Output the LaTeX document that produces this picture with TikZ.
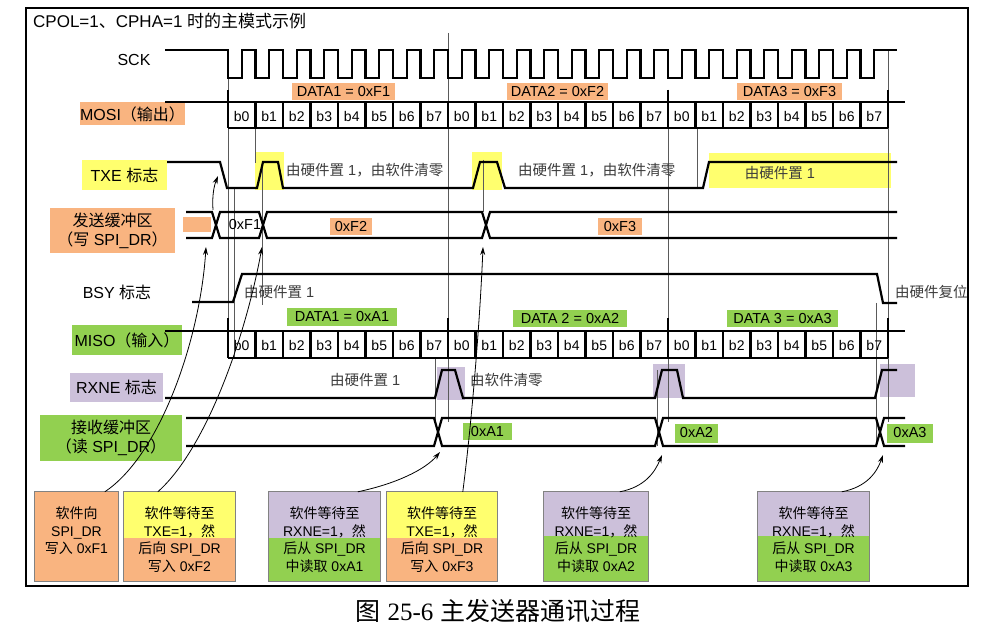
\documentclass[tikz,border=0pt]{standalone}
\usepackage{fontspec}
\setmainfont{Liberation Sans}
\newfontfamily\cjk{Noto Sans CJK SC}
\newfontfamily\capserif{Liberation Serif}
\usetikzlibrary{arrows.meta}
\definecolor{orng}{RGB}{249,180,128}
\definecolor{yel}{RGB}{255,255,110}
\definecolor{grn}{RGB}{146,208,80}
\definecolor{purp}{RGB}{204,192,218}
\definecolor{guide}{RGB}{90,90,90}
\definecolor{anno}{RGB}{60,60,60}
\definecolor{boxgray}{RGB}{130,130,130}
\newcommand\zh[1]{{\cjk #1}}
\begin{document}
\begin{tikzpicture}[x=1pt,y=-1pt,
 sig/.style={line width=2.2pt,line join=miter},
 guideline/.style={line width=0.7pt,draw=guide},
 arr/.style={-{Stealth[length=8pt,width=5pt]},line width=0.8pt},
 lab/.style={inner sep=0pt,font=\fontsize{16}{19}\selectfont},
 ann/.style={inner sep=0pt,text=anno,font=\fontsize{14.5}{17}\selectfont},
 bit/.style={inner sep=0pt,font=\fontsize{14}{16}\selectfont},
 datatag/.style={inner sep=0pt,font=\fontsize{14.5}{17}\selectfont},
 btext/.style={inner sep=0pt,align=center,font=\fontsize{14}{17.5}\selectfont},
 bline/.style={draw=boxgray,line width=0.9pt},
]
\useasboundingbox (0,0) rectangle (989,631);
\fill[white] (0,0) rectangle (989,631);
\draw[line width=1.5pt] (26,8) rectangle (968,586);
\node[anchor=west,inner sep=0pt,font=\fontsize{17}{20}\selectfont] (title) at (33,21) {CPOL=1\zh{、}CPHA=1 \zh{时的主模式示例}};

% ---- highlight boxes ----
\fill[yel] (255,152) rectangle (284,190);
\fill[yel] (472,152) rectangle (502,190);
\fill[yel] (709,153) rectangle (891,188);
\fill[purp] (437,367) rectangle (465,400);
\fill[purp] (653,364) rectangle (685,398);
\fill[purp] (880,364) rectangle (915,397);

% ---- row labels ----
\node[lab] (sck) at (134,60) {SCK};
\node[lab,fill=orng,minimum width=105pt,minimum height=23pt] (mosi) at (132.5,114) {MOSI\zh{（输出）}};
\node[lab,fill=yel,minimum width=85pt,minimum height=30pt] (txe) at (124.5,175) {TXE \zh{标志}};
\node[lab,fill=orng,minimum width=125pt,minimum height=45pt,align=center] (txbuf) at (112.5,230.5) {\zh{发送缓冲区}\\\zh{（写} SPI\_DR\zh{）}};
\node[fill=orng,minimum width=28pt,minimum height=15pt,inner sep=0pt] (txstub) at (197,224.5) {};
\node[lab] (bsy) at (117,292) {BSY \zh{标志}};
\node[lab,fill=grn,minimum width=110pt,minimum height=30pt] (miso) at (127,340) {MISO\zh{（输入）}};
\node[lab,fill=purp,minimum width=93pt,minimum height=29pt] (rxne) at (116.5,387.5) {RXNE \zh{标志}};
\node[lab,fill=grn,minimum width=142pt,minimum height=46pt,align=center] (rxbuf) at (111,438) {\zh{接收缓冲区}\\\zh{（读} SPI\_DR\zh{）}};

% ---- guide lines ----
\draw[guideline] (448,33) -- (448,422);
\draw[guideline] (668,90) -- (668,422);
\draw[guideline] (888,50) -- (888,422);
\draw[guideline] (228,78) -- (228,331);
\draw[guideline] (234,188) -- (234,358);
\draw[guideline] (255,128) -- (255,163);
\draw[guideline] (262,163) -- (262,305);
\draw[guideline] (483,160) -- (483,212);
\draw[guideline] (697,128) -- (697,188);
\draw[guideline] (435,358) -- (435,422);
\draw[guideline] (657,370) -- (657,446);
\draw[guideline] (876,303) -- (876,446);

% ---- SCK ----
\draw[sig] (165,50) foreach \k in {0,...,23} { -- ({228+27.5*\k},50) -- ({228+27.5*\k},78) -- ({241.75+27.5*\k},78) -- ({241.75+27.5*\k},50) } -- (897,50);

% ---- MOSI ----
\draw[sig] (165,102) -- (905,102);
\draw[sig] (228,128) -- (888,128);
\foreach \k in {0,...,24} \draw[sig] ({228+27.5*\k},102) -- ({228+27.5*\k},128);
\foreach \xx in {228,668,888} \draw[sig] (\xx,90) -- (\xx,102);
\foreach \k in {0,...,23} {
  \pgfmathtruncatemacro\bb{mod(\k,8)}
  \node[bit] (mo\k) at ({241.75+27.5*\k},116) {b\bb};
}
\node[datatag,fill=orng,minimum width=103pt,minimum height=17pt] (d1) at (343.5,91.5) {DATA1 = 0xF1};
\node[datatag,fill=orng,minimum width=101pt,minimum height=17pt] (d2) at (557.5,91.5) {DATA2 = 0xF2};
\node[datatag,fill=orng,minimum width=105pt,minimum height=17pt] (d3) at (789.5,91.5) {DATA3 = 0xF3};

% ---- TXE ----
\draw[sig] (167,162) -- (220,162) -- (227,188) -- (257,188) -- (263,162) -- (278,162) -- (283,188) -- (473,188) -- (480,162) -- (497,162) -- (505,188) -- (703,188) -- (709,162) -- (897,162);
\node[ann,anchor=west] (txa1) at (286,170) {\zh{由硬件置} 1\zh{，由软件清零}};
\node[ann,anchor=west] (txa2) at (518,170) {\zh{由硬件置} 1\zh{，由软件清零}};
\node[ann] (txa3) at (780,173) {\zh{由硬件置} 1};

% ---- send buffer ----
\draw[sig] (186,212) -- (212,212) -- (220,238) -- (259,238) -- (267,212) -- (482,212) -- (490,238) -- (897,238);
\draw[sig] (186,238) -- (212,238) -- (220,212) -- (259,212) -- (267,238) -- (482,238) -- (490,212) -- (897,212);
\node[datatag] (f1) at (245,225) {0xF1};
\node[datatag,fill=orng,minimum width=42pt,minimum height=17pt] (f2) at (351,226.5) {0xF2};
\node[datatag,fill=orng,minimum width=44pt,minimum height=17pt] (f3) at (620,226.5) {0xF3};

% ---- BSY ----
\draw[sig] (192,302) -- (233,302) -- (242,274) -- (877,274) -- (883,303) -- (897,303);
\node[ann,anchor=west] (bsa1) at (244,292) {\zh{由硬件置} 1};
\node[ann,anchor=west] (bsa2) at (895,292) {\zh{由硬件复位}};

% ---- MISO ----
\node[datatag,fill=grn,minimum width=110pt,minimum height=18pt] (a1) at (342,317) {DATA1 = 0xA1};
\node[datatag,fill=grn,minimum width=114pt,minimum height=17pt] (a2) at (570,319) {DATA 2 = 0xA2};
\node[datatag,fill=grn,minimum width=111pt,minimum height=17pt] (a3) at (782.5,319) {DATA 3 = 0xA3};
\draw[sig] (165,331) -- (905,331);
\draw[sig] (228,358) -- (888,358);
\foreach \k in {0,...,24} \draw[sig] ({228+27.5*\k},331) -- ({228+27.5*\k},358);
\foreach \xx in {228,448,668,888} \draw[sig] (\xx,318) -- (\xx,331);
\foreach \k in {0,...,23} {
  \pgfmathtruncatemacro\bb{mod(\k,8)}
  \node[bit] (mi\k) at ({241.75+27.5*\k},345) {b\bb};
}

% ---- RXNE ----
\draw[sig] (165,398) -- (435,398) -- (442,370) -- (455,370) -- (463,398) -- (655,398) -- (662,370) -- (677,370) -- (683,398) -- (875,398) -- (882,370) -- (897,370);
\node[ann,anchor=west] (rxa1) at (330,380) {\zh{由硬件置} 1};
\node[ann,anchor=west] (rxa2) at (470,380) {\zh{由软件清零}};

% ---- receive buffer ----
\draw[sig] (186,418) -- (434,418) -- (442,446) -- (655,446) -- (663,418) -- (876,418) -- (884,446) -- (905,446);
\draw[sig] (186,446) -- (434,446) -- (442,418) -- (655,418) -- (663,446) -- (876,446) -- (884,418) -- (905,418);
\node[datatag,fill=grn,minimum width=49pt,minimum height=17pt] (r1) at (487.5,431.5) {0xA1};
\node[datatag,fill=grn,minimum width=43pt,minimum height=19pt] (r2) at (696.5,433) {0xA2};
\node[datatag,fill=grn,minimum width=46pt,minimum height=19pt] (r3) at (910,433) {0xA3};

% ---- bottom boxes ----
\node[fill=orng,minimum width=83pt,minimum height=89pt,inner sep=0pt] (bx1) at (76.5,536.5) {};
\draw[bline] (bx1.north west) rectangle (bx1.south east);
\node[btext] (bx1t) at (76.5,531) {\zh{软件向}\\SPI\_DR\\\zh{写入} 0xF1};

\node[fill=yel,minimum width=111pt,minimum height=89pt,inner sep=0pt] (bx2) at (179.5,536.5) {};
\fill[orng] (124,538) rectangle (235,581);
\draw[bline] (bx2.north west) rectangle (bx2.south east);
\node[btext] (bx2t) at (179.5,539.5) {\zh{软件等待至}\\TXE=1\zh{，然}\\\zh{后向} SPI\_DR\\\zh{写入} 0xF2};

\node[fill=purp,minimum width=111pt,minimum height=89pt,inner sep=0pt] (bx3) at (324.5,536.5) {};
\fill[grn] (269,538) rectangle (380,581);
\draw[bline] (bx3.north west) rectangle (bx3.south east);
\node[btext] (bx3t) at (324.5,539.5) {\zh{软件等待至}\\RXNE=1\zh{，然}\\\zh{后从} SPI\_DR\\\zh{中读取} 0xA1};

\node[fill=yel,minimum width=110pt,minimum height=89pt,inner sep=0pt] (bx4) at (442,536.5) {};
\fill[orng] (387,538) rectangle (497,581);
\draw[bline] (bx4.north west) rectangle (bx4.south east);
\node[btext] (bx4t) at (442,539.5) {\zh{软件等待至}\\TXE=1\zh{，然}\\\zh{后向} SPI\_DR\\\zh{写入} 0xF3};

\node[fill=purp,minimum width=104pt,minimum height=89pt,inner sep=0pt] (bx5) at (596,536.5) {};
\fill[grn] (544,536) rectangle (648,581);
\draw[bline] (bx5.north west) rectangle (bx5.south east);
\node[btext] (bx5t) at (596,539.5) {\zh{软件等待至}\\RXNE=1\zh{，然}\\\zh{后从} SPI\_DR\\\zh{中读取} 0xA2};

\node[fill=purp,minimum width=111pt,minimum height=89pt,inner sep=0pt] (bx6) at (813.5,536.5) {};
\fill[grn] (758,536) rectangle (869,581);
\draw[bline] (bx6.north west) rectangle (bx6.south east);
\node[btext] (bx6t) at (813.5,539.5) {\zh{软件等待至}\\RXNE=1\zh{，然}\\\zh{后从} SPI\_DR\\\zh{中读取} 0xA3};

% ---- arrows ----
\coordinate (p1) at (206,247);
\coordinate (p2s) at (213,210);
\coordinate (p2) at (218,176);
\coordinate (p3) at (262,247);
\coordinate (p4) at (440,452);
\coordinate (p5) at (483,247);
\coordinate (p6) at (662,455);
\coordinate (p7) at (883,455);
\draw[arr] (bx1.north west) ++(70,0) .. controls (160,455) and (200,340) .. (p1);
\draw[arr] (p2s) .. controls (212,196) and (214,186) .. (p2);
\draw[arr] (bx2.north west) ++(34,0) .. controls (205,450) and (245,340) .. (p3);
\draw[arr] (bx3.north west) ++(89,0) .. controls (395,484) and (425,470) .. (p4);
\draw[arr] (bx4.north west) ++(76,0) .. controls (472,420) and (480,320) .. (p5);
\draw[arr] (bx5.north west) ++(76,0) .. controls (645,487) and (655,472) .. (p6);
\draw[arr] (bx6.north west) ++(84,0) .. controls (867,487) and (877,472) .. (p7);

% ---- caption ----
\node[inner sep=0pt,font=\fontsize{25}{28}\selectfont] (cap) at (498,611) {\zh{图} {\capserif 25-6} \zh{主发送器通讯过程}};
\end{tikzpicture}
\end{document}
